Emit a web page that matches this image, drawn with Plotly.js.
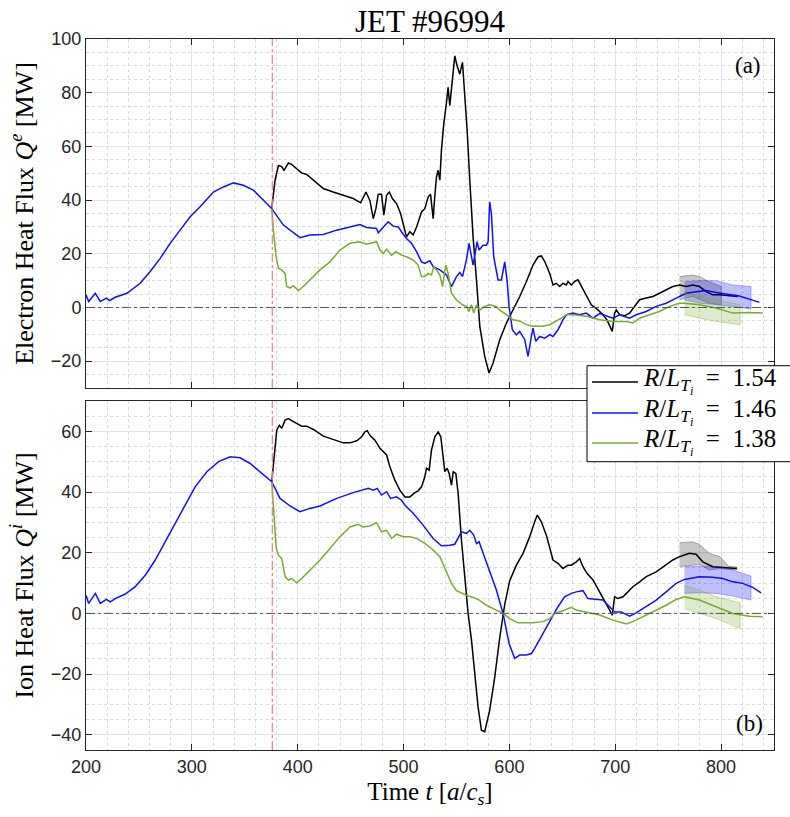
<!DOCTYPE html>
<html><head><meta charset="utf-8">
<script src="https://cdn.plot.ly/plotly-3.0.1.min.js"></script>
<style>html,body{margin:0;padding:0;background:#fff;}#chart{width:790px;height:817px;}</style>
</head><body><div id="chart"></div>
<script>
// ---------- Data ----------
const seriesValues = ['1.54', '1.46', '1.38'];   // R/L_Ti of each series
const onsetTime = 376;

// Panel (a): electron heat flux Q^e [MW]
const tQeBlack = [375.5,378.6,381.8,384.9,387.1,391.2,394.3,399.1,403.8,408.5,414.8,424.2,433.6,443.1,452.5,459.4,464.5,468.2,471.4,473.9,476.1,479.2,481.4,484,486.5,489.6,493.4,497.2,499.7,502.8,506,509.1,512.3,517,520.1,523.3,525.5,528,529.6,531.1,532.7,534.3,535.8,538,540.6,542.1,543.7,546.2,548.4,550.6,553.1,555.7,557.9,560.1,562.6,565.7,568.9,572.1,576.7,580.8,584.6,590.9,597.2,603.5,609.8,616.1,622.3,627.1,630.2,633.4,638.1,641.2,644.4,647.5,650.6,653.8,655.4,658.5,661.7,664.8,668,672.7,677.4,683.7,688.4,692.2,694.7,697.2,699.4,701,704.1,708.8,713.5,718.3,723,729.3,735.6,741.8,748.1,754.4,760.7,767,773.3,779.6,785.9,792.2,798.5,807.9,815.7];
const qeBlack = [36.8,47.4,52.9,52.5,51.1,53.8,53.3,51.7,50.1,49.6,47.4,44.3,43.0,41.8,40.6,39.0,43.0,39.9,33.1,36.8,42.2,42.2,34.4,41.8,43.0,40.5,38.7,35.0,30.7,26.3,28.2,27.0,30.0,35.6,36.8,41.2,42.2,33.1,41.8,48.6,51.1,47.4,58.5,68.4,76.4,82.0,75.2,83.8,93.7,90.0,86.9,91.3,80.1,65.9,47.4,26.3,10.2,-7.1,-18.2,-24.4,-20.7,-12.0,-5.8,-0.9,4.1,9.7,15.8,18.9,19.2,17.1,12.7,8.4,9.0,7.8,9.0,8.4,9.7,8.4,9.7,10.3,7.8,4.1,1.0,-0.9,-2.7,-4.6,-7.0,-8.9,-2.1,-0.9,-2.7,-3.1,-2.1,0.4,2.9,3.5,4.1,5.3,6.6,7.8,8.4,7.8,8.4,7.8,5.9,4.7,4.7,4.3,4.1];

const tQeBlue = [200,202.5,208.8,213.5,219.2,222.3,227.6,238.7,251.2,260.6,270.1,279.5,288.9,298.4,307.8,320.4,329.8,339.3,348.7,358.1,367.5,375.5,386.5,392.8,402.2,411.6,424.2,436.8,449.4,458.8,465.1,474.5,476.1,480.8,485.5,490.3,495,498.1,502.8,507.5,512.3,517,520.1,524.8,528,534.3,540.6,545.3,550,553.2,555.7,559.4,561.9,564.2,565.7,569.5,571.4,575.2,578.3,579.9,581.4,583,585.2,589.3,592.5,595.6,597.8,599.7,602.8,606.6,609.8,614.5,617.6,620.8,622.3,624.9,628.6,633.4,638.1,641.2,645.9,650.6,653.8,660.1,666.4,672.7,679,685.2,691.5,697.8,704.1,713.5,719.8,729.3,738.7,748.1,757.6,767,776.4,785.9,795.3,804.7,817.3,826.7,836.2];
const qeBlue = [4.7,2.2,5.3,2.2,3.5,2.6,3.8,5.3,9.0,13.4,18.3,23.9,28.8,33.8,37.5,43.0,44.9,46.4,45.5,43.7,40.0,36.8,30.7,28.8,26.0,27.0,27.2,28.8,30.0,30.9,29.8,29.4,27.8,30.0,31.9,30.3,30.0,28.2,25.7,23.9,20.8,17.0,16.4,17.4,15.2,14.0,12.1,7.8,11.5,13.0,11.5,17.7,23.9,18.9,15.8,24.5,21.4,23.2,23.2,24.5,39.3,35.0,18.9,10.2,10.2,17.0,10.2,0.4,-8.3,-10.2,-8.9,-12.0,-18.2,-10.8,-7.7,-12.6,-10.8,-11.4,-10.1,-10.8,-8.3,-4.6,-2.7,-2.1,-2.7,-2.1,-4.0,-2.3,-3.1,-4.0,-2.7,-4.0,-2.7,-1.5,0.4,1.6,3.5,5.3,5.9,6.3,5.6,5.1,4.3,3.1,1.9];

const tQeGreen = [375.5,377,379.6,381.8,384.9,388.1,389.6,392.8,395.9,400.6,405.3,411.6,421.1,430.5,439.9,449.4,458.8,465.1,471.4,474.5,477.7,480.8,484,488.7,492.8,498.1,502.8,509.1,513.8,517,520.1,523.3,526.4,528.6,531.1,534.3,536.8,539.9,542.1,545.3,550,555.7,559.4,561.9,564.1,566.3,568.9,572.1,576.7,581.4,587.7,590.9,597.2,603.5,609.8,616.1,622.3,631.8,638.1,644.4,649.1,653.8,660.1,672.7,685.2,697.8,710.4,716.7,723,732.4,741.8,751.3,760.7,765.4,779.6,795.3,811,826.7,839.3];
const qeGreen = [36.8,28.8,18.9,14.6,14.0,12.7,7.8,7.2,8.1,6.3,7.8,10.2,14.0,17.0,21.4,23.9,24.5,23.6,24.1,24.5,21.4,20.1,21.7,19.5,20.8,19.5,18.9,17.7,15.8,11.5,11.5,12.7,12.1,15.2,14.0,12.1,7.8,15.8,12.7,5.3,2.8,1.0,0.4,-1.5,1.0,-2.1,1.0,-0.9,0.4,1.0,0.4,-1.0,-2.7,-4.6,-5.0,-6.4,-7.0,-7.0,-6.4,-5.2,-4.0,-2.7,-2.7,-3.3,-4.6,-5.2,-5.2,-5.8,-4.0,-2.7,-1.5,0.4,1.6,1.6,1.0,-0.2,-2.1,-1.9,-2.1];

// Panel (a) uncertainty bands
const tQeBandBlack = [760.7,773,779.6,788.8,800.1];
const qeBandBlackHi = [11.5,12.1,11.5,9.6,7.8];
const qeBandBlackLo = [2.9,4.1,3.0,1.6,1.0];
const tQeBandBlue = [765.4,779.6,795.3,811,828.3];
const qeBandBlueHi = [9.6,10.0,10.0,8.4,7.8];
const qeBandBlueLo = [2.8,1.6,1.0,0.4,-0.6];
const tQeBandGreen = [765.4,779.6,795.3,818];
const qeBandGreenHi = [5.3,4.1,2.9,1.0];
const qeBandGreenLo = [-2.7,-4.0,-5.2,-6.4];

// Panel (b): ion heat flux Q^i [MW]
const tQiBlack = [375.5,377.7,380.2,382.7,384.9,388.1,391.2,394.3,399.1,403.8,408.5,414.8,424.2,433.6,443.1,449.4,455.7,460.4,463.5,465.7,468.2,473,477.7,484,487.1,491.8,496.5,501.3,506,510.7,513.8,517,520.1,521.7,524.2,526.4,529.6,532.7,535.2,537.4,539,541.2,543.1,545.3,546.9,549.4,551.6,554.7,557.9,561,564.2,567.3,570.4,573.6,576.7,581.4,586.2,590.9,595.6,600.3,606.6,612.9,619.2,623.9,626.4,630.2,634.9,641.2,645.9,650.6,655.4,658.5,663.2,666.4,669.5,673.3,679,685.2,690,694.7,697.2,699.4,702.5,707.3,712,716.7,723,729.3,738.7,748.1,754.4,760.7,770.1,776.4,782.7,792.2,804.7,814.8];
const qiBlack = [43.4,51.6,60.4,62.0,61.0,63.7,64.2,63.5,62.6,61.7,61.7,60.6,58.4,57.3,56.2,56.2,56.9,58.2,59.8,60.2,58.7,57.1,54.4,52.2,48.3,43.9,40.6,38.4,38.4,39.8,40.4,41.7,45.0,47.8,47.2,53.8,58.2,59.8,58.2,51.6,46.7,47.8,46.1,42.3,46.7,46.1,39.5,24.2,12.1,0.0,-8.8,-20.9,-30.8,-38.5,-39.0,-31.9,-20.9,-8.0,3.0,10.8,15.9,19.8,25.3,30.2,32.4,30.2,25.8,17.6,16.5,14.8,15.9,15.9,17.0,18.1,15.4,13.2,11.0,7.1,3.8,1.1,-0.6,5.5,4.9,5.5,7.1,8.8,10.4,12.1,13.7,15.9,17.6,18.7,19.8,19.5,17.0,15.4,15.0,14.8];

const tQiBlue = [200,202.5,208.8,213.5,219.2,223,227.6,237.1,246.5,256,265.4,274.8,284.3,293.7,303.1,314.2,325.2,336.2,345.6,355.1,364.5,375.5,383.3,392.8,402.2,411.6,421.1,436.8,452.5,461.9,466.7,471.4,475.2,479.2,484,487.7,493.4,498.1,501.3,509.1,518.5,528,535.8,543.7,548.4,554.7,559.4,562.6,566.3,568.9,571.4,575.2,581.4,587.7,594,599.7,605,609.8,616.1,620.8,623.9,631.8,638.1,645.9,652.2,658.5,663.2,669.5,674.2,680.5,688.4,694.7,699.4,705.7,713.5,719.8,729.3,738.7,748.1,757.6,765.4,779.6,792.2,801.6,811,820.5,829.9,837.8];
const qiBlue = [6.0,3.3,6.6,3.3,4.6,3.8,4.9,6.4,8.8,12.6,17.6,23.6,29.6,35.7,41.7,46.7,50.0,51.6,51.3,49.4,46.7,43.4,37.9,35.4,33.5,34.6,35.4,37.9,39.8,40.6,41.2,40.6,41.2,39.0,40.1,37.9,38.4,37.3,35.7,33.0,29.1,24.7,22.3,22.5,22.8,26.9,26.4,27.4,25.8,23.0,23.6,19.8,13.7,7.7,0.0,-9.9,-14.8,-13.7,-13.7,-13.2,-11.5,-6.6,-2.2,2.2,5.5,6.6,7.1,7.5,4.9,4.6,4.4,2.2,0.5,0.5,-0.9,0.2,2.2,4.4,7.1,9.9,11.2,12.1,11.9,11.5,10.4,9.9,8.6,6.8];

const tQiGreen = [375.5,377,379.6,381.8,384.9,388.1,391.2,394.3,399.1,403.8,411.6,421.1,430.5,439.9,449.4,457.3,461.9,468.2,474.5,479.2,484,488.7,493.4,499.7,506,512.3,520.1,528,534.3,539,545.3,550,559.4,565.7,570.4,578.3,587.7,594,600.3,608.2,622.3,631.8,638.1,642.8,650.6,658.5,663.2,672.7,685.2,697.8,710.4,716.7,726.1,735.6,748.1,757.6,765.4,779.6,795.3,811,826.7,839.3];
const qiGreen = [43.4,34.0,21.9,19.2,18.1,12.1,11.0,11.5,10.1,11.5,14.3,17.6,21.4,25.3,28.5,29.4,28.5,28.8,29.9,26.9,27.4,24.7,26.1,25.3,25.3,24.7,23.1,20.9,18.7,14.8,9.9,7.5,6.0,5.3,4.6,2.7,1.1,0.0,-1.7,-3.1,-3.1,-2.7,-1.7,0.0,0.9,2.0,1.1,0.5,-0.5,-2.2,-3.5,-2.7,-1.1,0.5,2.7,4.6,5.5,4.4,2.2,0.0,-0.9,-1.1];

// Panel (b) uncertainty bands
const tQiBandBlack = [760.7,773,779.6,788.8,799,807,815];
const qiBandBlackHi = [23.3,23.6,22.8,19.8,18.7,15.6,15.3];
const qiBandBlackLo = [15.4,15.9,16.2,14.3,14.8,14.5,14.3];
const tQiBandBlue = [765.4,779.6,795.3,811,828.3];
const qiBandBlueHi = [15.4,15.6,15.4,14.3,12.3];
const qiBandBlueLo = [6.6,6.8,6.6,5.7,4.4];
const tQiBandGreen = [765.4,779.6,795.3,818];
const qiBandGreenHi = [9.3,7.7,5.5,3.5];
const qiBandGreenLo = [1.6,0.0,-1.7,-5.0];

// ---------- Styling ----------
const colBlack = '#000000', colBlue = '#1010ff', colGreen = '#77ac30';
const seriesColors = [colBlack, colBlue, colGreen];
const eqSp = '\u00a0\u00a0';
const legendLabels = seriesValues.map(v =>
  '<i>R</i>/<i>L</i><sub><i>T</i><sub><i>i</i></sub></sub>' + eqSp + '=' + eqSp + v);

function line(x, y, color, xa, ya, name) {
  return {x: x, y: y, type: 'scatter', mode: 'lines', xaxis: xa, yaxis: ya,
    line: {color: color, width: 1.5}, name: name, showlegend: false, hoverinfo: 'skip'};
}
function band(x, hi, lo, fill, edge, xa, ya) {
  return {x: x.concat(x.slice().reverse()), y: hi.concat(lo.slice().reverse()), type: 'scatter', mode: 'lines',
    fill: 'toself', fillcolor: fill, line: {color: edge, width: 0.8}, xaxis: xa, yaxis: ya,
    showlegend: false, hoverinfo: 'skip'};
}

const traces = [
  line(tQeBlack, qeBlack, colBlack, 'x', 'y', legendLabels[0]),
  line(tQeBlue, qeBlue, colBlue, 'x', 'y', legendLabels[1]),
  line(tQeGreen, qeGreen, colGreen, 'x', 'y', legendLabels[2]),
  band(tQeBandBlack, qeBandBlackHi, qeBandBlackLo, 'rgba(0,0,0,0.22)', 'rgba(0,0,0,0.35)', 'x', 'y'),
  band(tQeBandBlue, qeBandBlueHi, qeBandBlueLo, 'rgba(0,0,255,0.25)', 'rgba(0,0,255,0.35)', 'x', 'y'),
  band(tQeBandGreen, qeBandGreenHi, qeBandGreenLo, 'rgba(119,172,48,0.25)', 'rgba(119,172,48,0.45)', 'x', 'y'),
  line(tQiBlack, qiBlack, colBlack, 'x2', 'y2', legendLabels[0]),
  line(tQiBlue, qiBlue, colBlue, 'x2', 'y2', legendLabels[1]),
  line(tQiGreen, qiGreen, colGreen, 'x2', 'y2', legendLabels[2]),
  band(tQiBandBlack, qiBandBlackHi, qiBandBlackLo, 'rgba(0,0,0,0.22)', 'rgba(0,0,0,0.35)', 'x2', 'y2'),
  band(tQiBandBlue, qiBandBlueHi, qiBandBlueLo, 'rgba(0,0,255,0.25)', 'rgba(0,0,255,0.35)', 'x2', 'y2'),
  band(tQiBandGreen, qiBandGreenHi, qiBandGreenLo, 'rgba(119,172,48,0.25)', 'rgba(119,172,48,0.45)', 'x2', 'y2')
];

const axisCol = '#262626';
const tickFont = {family: 'Liberation Sans, Arial, sans-serif', size: 18, color: axisCol};
const serif = 'Liberation Serif, Times New Roman, serif';
function xAxis(anchor, showLabels, title) {
  const a = {anchor: anchor, range: [200, 850], dtick: 100, tick0: 200, ticks: 'inside', ticklen: 6, tickcolor: axisCol,
    showline: true, linecolor: axisCol, linewidth: 1, mirror: 'ticks', zeroline: false,
    showgrid: true, gridcolor: '#e3e3e3', gridwidth: 1, showticklabels: showLabels, tickfont: tickFont,
    minor: {dtick: 20, tick0: 200, showgrid: true, gridcolor: '#dadada', griddash: 'dot', gridwidth: 1, ticks: ''}};
  if (title) a.title = {text: title, font: {family: serif, size: 25, color: '#000'}, standoff: 6};
  return a;
}
function yAxis(anchor, domain, range, title) {
  return {anchor: anchor, domain: domain, range: range, dtick: 20, tick0: 0, ticks: 'inside', ticklen: 6, tickcolor: axisCol,
    showline: true, linecolor: axisCol, linewidth: 1, mirror: 'ticks', zeroline: false,
    showgrid: true, gridcolor: '#e3e3e3', gridwidth: 1, tickfont: tickFont,
    minor: {dtick: 5, tick0: 0, showgrid: true, gridcolor: '#dadada', griddash: 'dot', gridwidth: 1, ticks: ''},
    title: {text: title, font: {family: serif, size: 26, color: '#000'}, standoff: 9}};
}

// Manual legend box (paper coordinates), overlapping the right edge like the reference
const legX0 = 0.7282, legX1 = 1.05, legY0 = 0.4055, legY1 = 0.5405;
const legRowY = [0.5176, 0.4740, 0.4318];
const legLineX0 = 0.7355, legLineX1 = 0.8023, legTextX = 0.8060;

const shapes = [
  {type: 'line', xref: 'x domain', yref: 'y', x0: 0, x1: 1, y0: 0, y1: 0, line: {color: '#555', width: 1, dash: 'dashdot'}},
  {type: 'line', xref: 'x2 domain', yref: 'y2', x0: 0, x1: 1, y0: 0, y1: 0, line: {color: '#555', width: 1, dash: 'dashdot'}},
  {type: 'line', xref: 'x', yref: 'y domain', x0: onsetTime, x1: onsetTime, y0: 0, y1: 1, line: {color: '#ff7a7a', width: 1.2, dash: 'dashdot'}},
  {type: 'line', xref: 'x2', yref: 'y2 domain', x0: onsetTime, x1: onsetTime, y0: 0, y1: 1, line: {color: '#ff7a7a', width: 1.2, dash: 'dashdot'}},
  {type: 'rect', xref: 'paper', yref: 'paper', x0: legX0, x1: legX1, y0: legY0, y1: legY1, layer: 'above',
    fillcolor: '#ffffff', line: {color: '#000', width: 1}}
];
const annotations = [
  {text: '(a)', xref: 'x domain', yref: 'y domain', x: 0.984, y: 0.925, xanchor: 'right', yanchor: 'middle', showarrow: false,
    font: {family: serif, size: 23, color: '#000'}},
  {text: '(b)', xref: 'x2 domain', yref: 'y2 domain', x: 0.987, y: 0.077, xanchor: 'right', yanchor: 'middle', showarrow: false,
    font: {family: serif, size: 23, color: '#000'}}
];
seriesColors.forEach((c, i) => {
  shapes.push({type: 'line', xref: 'paper', yref: 'paper', x0: legLineX0, x1: legLineX1, y0: legRowY[i], y1: legRowY[i],
    layer: 'above', line: {color: c, width: 1.5}});
  annotations.push({text: legendLabels[i], xref: 'paper', yref: 'paper', x: legTextX, y: legRowY[i] + 0.002,
    xanchor: 'left', yanchor: 'middle', showarrow: false, font: {family: serif, size: 25, color: '#000'}});
});

const layout = {
  width: 790, height: 817,
  margin: {l: 86, r: 16, t: 39, b: 67, autoexpand: false},
  paper_bgcolor: '#fff', plot_bgcolor: '#fff',
  title: {text: 'JET #96994', font: {family: serif, size: 31, color: '#000'}, xref: 'paper', x: 0.5, xanchor: 'center',
    yref: 'container', y: 0.974, yanchor: 'middle'},
  xaxis: xAxis('y', false, null),
  yaxis: yAxis('x', [0.5091, 1], [-30, 100], 'Electron Heat Flux <i>Q</i><sup><i>e</i></sup> [MW]'),
  xaxis2: xAxis('y2', true, 'Time <i>t</i> [<i>a</i>/<i>c</i><sub><i>s</i></sub>]'),
  yaxis2: yAxis('x2', [0, 0.4909], [-45, 70], 'Ion Heat Flux <i>Q</i><sup><i>i</i></sup> [MW]'),
  showlegend: false,
  shapes: shapes,
  annotations: annotations
};

Plotly.newPlot('chart', traces, layout, {staticPlot: true, displayModeBar: false});
</script>
</body></html>
